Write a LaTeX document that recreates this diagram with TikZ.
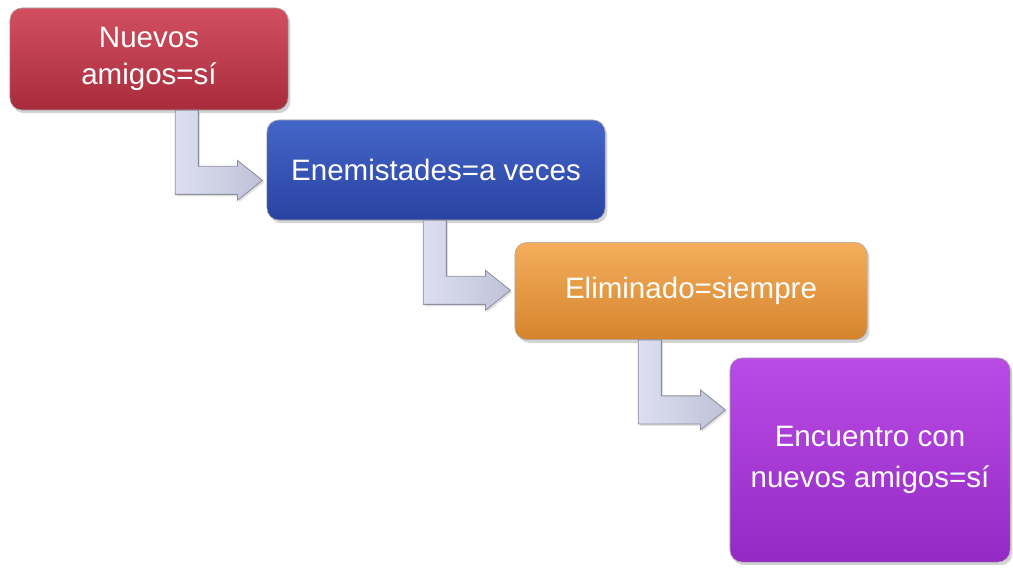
\documentclass[tikz,border=0pt]{standalone}
\usepackage{fontspec}
\setmainfont{Liberation Sans}
\usetikzlibrary{calc,shadows}

\definecolor{redtop}{HTML}{D24F60}
\definecolor{redbot}{HTML}{A82C3C}
\definecolor{bluetop}{HTML}{4466C8}
\definecolor{bluebot}{HTML}{2942A2}
\definecolor{orangetop}{HTML}{F4AE5C}
\definecolor{orangebot}{HTML}{D6842C}
\definecolor{purpletop}{HTML}{B84CE4}
\definecolor{purplebot}{HTML}{9529C4}
\definecolor{arrowlight}{HTML}{DDDFF0}
\definecolor{arrowdark}{HTML}{BFC1D8}
\definecolor{arrowedge}{HTML}{8C8DA0}

\tikzset{
  stepbox/.style={rounded corners=0.3cm, text=white, align=center,
    font=\fontsize{21}{26}\selectfont, draw=black!35, line width=0.4pt,
    drop shadow={opacity=0.35, shadow xshift=0.06cm, shadow yshift=-0.08cm}},
  lshape/.style={draw=arrowedge, line width=0.6pt, line join=miter,
    left color=arrowlight, right color=arrowdark,
    drop shadow={opacity=0.25, shadow xshift=0.04cm, shadow yshift=-0.05cm}}
}

% bent arrow from the bottom of #1 into the left side of #2
\newcommand\bentarrow[2]{%
  \path[lshape] let \p1=(#1.south), \p2=(#2.west),
      \n1={\y1-49.8pt}, \n2={\x2-3pt}, \n3={\x2-65pt} in
    (\n3,\y1) -- (\n3+16.4pt,\y1) -- (\n3+16.4pt,\n1+10pt)
    -- (\n2-17.8pt,\n1+10pt) -- (\n2-17.8pt,\n1+14.2pt) -- (\n2,\n1)
    -- (\n2-17.8pt,\n1-14.2pt) -- (\n2-17.8pt,\n1-10pt) -- (\n3,\n1-10pt) -- cycle;
}

\begin{document}
\begin{tikzpicture}[x=0.025cm,y=-0.025cm]
  \useasboundingbox (0,0) rectangle (1013,567);

  \node[stepbox, top color=redtop, bottom color=redbot,
        minimum width=6.95cm, minimum height=2.55cm] (amigos) at (149,59)
        {Nuevos\\amigos=sí};
  \node[stepbox, top color=bluetop, bottom color=bluebot,
        minimum width=8.45cm, minimum height=2.5cm] (enemistades) at (436,170)
        {Enemistades=a veces};
  \node[stepbox, top color=orangetop, bottom color=orangebot,
        minimum width=8.8cm, minimum height=2.43cm] (eliminado) at (691,291)
        {Eliminado=siempre};
  \node[stepbox, top color=purpletop, bottom color=purplebot,
        font=\fontsize{21}{29}\selectfont,
        minimum width=7cm, minimum height=5.1cm] (encuentro) at (870,460)
        {Encuentro con\\nuevos amigos=sí};

  \bentarrow{amigos}{enemistades}
  \bentarrow{enemistades}{eliminado}
  \bentarrow{eliminado}{encuentro}
\end{tikzpicture}
\end{document}
